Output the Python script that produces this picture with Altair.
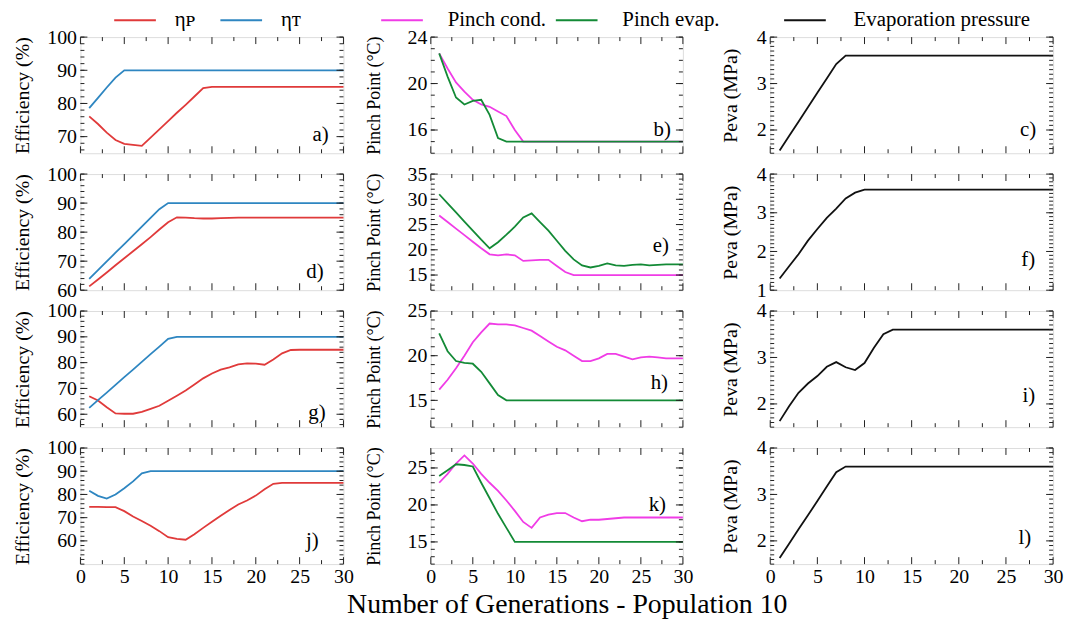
import math
import altair as alt
import pandas as pd

FONT = "Liberation Serif"
GEN = list(range(1, 31))

# ---------------- data ----------------
A_P = [76.1, 73.8, 71.2, 69.0, 67.8, 67.5, 67.2, 69.7, 72.2, 74.7, 77.2, 79.6, 82.1, 84.6, 85.0,
       85.0, 85.0, 85.0, 85.0, 85.0, 85.0, 85.0, 85.0, 85.0, 85.0, 85.0, 85.0, 85.0, 85.0, 85.0]
A_T = [78.6, 81.7, 84.8, 87.8, 90.0, 90.0, 90.0, 90.0, 90.0, 90.0, 90.0, 90.0, 90.0, 90.0, 90.0,
       90.0, 90.0, 90.0, 90.0, 90.0, 90.0, 90.0, 90.0, 90.0, 90.0, 90.0, 90.0, 90.0, 90.0, 90.0]
D_P = [61.3, 63.7, 66.1, 68.6, 71.0, 73.4, 75.8, 78.3, 80.9, 83.4, 85.1, 85.0, 84.8, 84.7, 84.7,
       84.8, 84.9, 85.0, 85.0, 85.0, 85.0, 85.0, 85.0, 85.0, 85.0, 85.0, 85.0, 85.0, 85.0, 85.0]
D_T = [63.9, 66.9, 69.9, 72.9, 75.9, 78.9, 81.9, 84.9, 87.9, 90.0, 90.0, 90.0, 90.0, 90.0, 90.0,
       90.0, 90.0, 90.0, 90.0, 90.0, 90.0, 90.0, 90.0, 90.0, 90.0, 90.0, 90.0, 90.0, 90.0, 90.0]
G_P = [67.0, 65.3, 62.7, 60.3, 60.2, 60.2, 60.9, 62.1, 63.3, 65.2, 67.2, 69.2, 71.5, 73.9, 75.8,
       77.3, 78.2, 79.3, 79.7, 79.6, 79.2, 81.2, 83.6, 84.9, 85.0, 85.0, 85.0, 85.0, 85.0, 85.0]
G_T = [62.5, 65.5, 68.4, 71.4, 74.4, 77.3, 80.3, 83.3, 86.2, 89.2, 90.0, 90.0, 90.0, 90.0, 90.0,
       90.0, 90.0, 90.0, 90.0, 90.0, 90.0, 90.0, 90.0, 90.0, 90.0, 90.0, 90.0, 90.0, 90.0, 90.0]
J_P = [74.6, 74.6, 74.5, 74.5, 72.8, 70.5, 68.6, 66.5, 64.2, 61.6, 60.9, 60.5, 62.9, 65.6, 68.2,
       70.8, 73.3, 75.7, 77.4, 79.5, 82.2, 84.6, 85.0, 85.0, 85.0, 85.0, 85.0, 85.0, 85.0, 85.0]
J_T = [81.6, 79.4, 78.2, 80.0, 82.7, 85.6, 89.1, 90.0, 90.0, 90.0, 90.0, 90.0, 90.0, 90.0, 90.0,
       90.0, 90.0, 90.0, 90.0, 90.0, 90.0, 90.0, 90.0, 90.0, 90.0, 90.0, 90.0, 90.0, 90.0, 90.0]

B_C = [22.6, 21.3, 20.1, 19.3, 18.6, 18.2, 18.0, 17.6, 17.2, 16.0, 15.0, 15.0, 15.0, 15.0, 15.0,
       15.0, 15.0, 15.0, 15.0, 15.0, 15.0, 15.0, 15.0, 15.0, 15.0, 15.0, 15.0, 15.0, 15.0, 15.0]
B_E = [22.6, 20.6, 18.8, 18.2, 18.5, 18.6, 17.3, 15.3, 15.0, 15.0, 15.0, 15.0, 15.0, 15.0, 15.0,
       15.0, 15.0, 15.0, 15.0, 15.0, 15.0, 15.0, 15.0, 15.0, 15.0, 15.0, 15.0, 15.0, 15.0, 15.0]
E_C = [26.8, 25.5, 24.2, 22.9, 21.6, 20.3, 19.1, 18.9, 19.1, 18.9, 17.8, 17.9, 18.0, 18.0, 16.8,
       15.6, 15.0, 15.0, 15.0, 15.0, 15.0, 15.0, 15.0, 15.0, 15.0, 15.0, 15.0, 15.0, 15.0, 15.0]
E_E = [31.0, 29.2, 27.4, 25.6, 23.8, 22.0, 20.3, 21.5, 23.0, 24.6, 26.4, 27.2, 25.5, 23.8, 21.8,
       19.8, 18.1, 16.9, 16.5, 16.8, 17.3, 16.9, 16.8, 17.0, 17.1, 16.9, 17.0, 17.1, 17.1, 17.1]
H_C = [16.2, 17.3, 18.6, 20.0, 21.5, 22.6, 23.6, 23.5, 23.5, 23.4, 23.1, 22.8, 22.2, 21.6, 21.0,
       20.6, 20.0, 19.4, 19.4, 19.7, 20.2, 20.2, 19.9, 19.6, 19.8, 19.9, 19.8, 19.7, 19.7, 19.7]
H_E = [22.5, 20.5, 19.4, 19.2, 19.1, 18.2, 16.9, 15.6, 15.0, 15.0, 15.0, 15.0, 15.0, 15.0, 15.0,
       15.0, 15.0, 15.0, 15.0, 15.0, 15.0, 15.0, 15.0, 15.0, 15.0, 15.0, 15.0, 15.0, 15.0, 15.0]
K_C = [23.0, 24.2, 25.6, 26.7, 25.6, 24.2, 23.0, 21.9, 20.6, 19.2, 17.7, 16.9, 18.3, 18.7, 18.9,
       18.9, 18.3, 17.8, 18.0, 18.0, 18.1, 18.2, 18.3, 18.3, 18.3, 18.3, 18.3, 18.3, 18.3, 18.3]
K_E = [23.9, 24.7, 25.5, 25.4, 25.2, 23.0, 20.9, 18.8, 16.9, 15.0, 15.0, 15.0, 15.0, 15.0, 15.0,
       15.0, 15.0, 15.0, 15.0, 15.0, 15.0, 15.0, 15.0, 15.0, 15.0, 15.0, 15.0, 15.0, 15.0, 15.0]

C_V = [1.56, 1.87, 2.18, 2.49, 2.80, 3.11, 3.42, 3.60, 3.60, 3.60, 3.60, 3.60, 3.60, 3.60, 3.60,
       3.60, 3.60, 3.60, 3.60, 3.60, 3.60, 3.60, 3.60, 3.60, 3.60, 3.60, 3.60, 3.60, 3.60, 3.60]
F_V = [1.30, 1.62, 1.93, 2.28, 2.58, 2.87, 3.11, 3.37, 3.52, 3.60, 3.60, 3.60, 3.60, 3.60, 3.60,
       3.60, 3.60, 3.60, 3.60, 3.60, 3.60, 3.60, 3.60, 3.60, 3.60, 3.60, 3.60, 3.60, 3.60, 3.60]
I_V = [1.63, 1.95, 2.24, 2.44, 2.60, 2.80, 2.90, 2.79, 2.73, 2.88, 3.21, 3.50, 3.60, 3.60, 3.60,
       3.60, 3.60, 3.60, 3.60, 3.60, 3.60, 3.60, 3.60, 3.60, 3.60, 3.60, 3.60, 3.60, 3.60, 3.60]
L_V = [1.63, 1.94, 2.25, 2.55, 2.86, 3.17, 3.48, 3.60, 3.60, 3.60, 3.60, 3.60, 3.60, 3.60, 3.60,
       3.60, 3.60, 3.60, 3.60, 3.60, 3.60, 3.60, 3.60, 3.60, 3.60, 3.60, 3.60, 3.60, 3.60, 3.60]

SER1 = ["ηᴘ", "ηᴛ"]
SER2 = ["Pinch cond.", "Pinch evap."]
SER3 = ["Evaporation pressure"]

X_MAJOR = [0, 5, 10, 15, 20, 25, 30]
X_MINOR = [2.5, 7.5, 12.5, 17.5, 22.5, 27.5]

COL1 = dict(series=SER1, colors=["#e03a3a", "#2e86c1"], title="Efficiency (%)", title_size=20,
            label_size=20, extent=38, width=265, legend_x=33, label_offset=18, col_pad=21,
            minor_step=2)
COL2 = dict(series=SER2, colors=["#f03ce6", "#138a36"], title="Pinch Point (°C)", title_size=18,
            label_size=20, extent=38, width=254, legend_x=-51, label_offset=24, col_pad=5,
            minor_step=1)
COL3 = dict(series=SER3, colors=["#111111"], title="Peva (MPa)", title_size=20,
            label_size=20, extent=20, width=285, legend_x=13, label_offset=27, col_pad=20,
            minor_step=0.1)
H = 117
TICK_COLOR = "#222222"
MAJOR_LEN = 7   # px
MINOR_LEN = 4   # px


def steps(lo, hi, step):
    k = math.ceil(lo / step - 1e-9)
    vals = []
    while k * step <= hi + 1e-9:
        vals.append(round(k * step, 4))
        k += 1
    return vals


def frame_ticks(xs, ys, xdom, ydom, ymajor, yminor, W):
    """Inward frame ticks as short two-point line segments placed through the panel scales."""
    ux = (xdom[1] - xdom[0]) / W      # data units per pixel (x)
    uy = (ydom[1] - ydom[0]) / H      # data units per pixel (y)
    rows, tid = [], 0
    for vals, ln in ((ymajor, MAJOR_LEN), (yminor, MINOR_LEN)):
        for v in vals:
            for x0, x1 in ((xdom[0], xdom[0] + ln * ux), (xdom[1] - ln * ux, xdom[1])):
                rows += [{"tid": tid, "tx": x0, "ty": v}, {"tid": tid, "tx": x1, "ty": v}]
                tid += 1
    for vals, ln in ((X_MAJOR, MAJOR_LEN), (X_MINOR, MINOR_LEN)):
        for v in vals:
            for y0, y1 in ((ydom[0], ydom[0] + ln * uy), (ydom[1] - ln * uy, ydom[1])):
                rows += [{"tid": tid, "tx": v, "ty": y0}, {"tid": tid, "tx": v, "ty": y1}]
                tid += 1
    return alt.Chart(pd.DataFrame(rows)).mark_line(
        color=TICK_COLOR, strokeWidth=1, strokeCap="butt").encode(
        x=alt.X("tx:Q", scale=xs, axis=None),
        y=alt.Y("ty:Q", scale=ys, axis=None),
        detail="tid:N",
    )


def panel(col, series_values, ydom, ylabels, tag, tag_pos, row):
    W = col["width"]
    recs = []
    for name, vals in zip(col["series"], series_values):
        for g, v in zip(GEN, vals):
            recs.append({"gen": g, "series": name, "val": v})
    df = pd.DataFrame(recs)

    xdom = [0, 30]
    xs = alt.Scale(domain=xdom, nice=False, zero=False)
    ys = alt.Scale(domain=ydom, nice=False, zero=False)
    yminor = steps(ydom[0], ydom[1], col["minor_step"])

    if row == 3:
        xaxis_kw = dict(values=X_MAJOR, labels=True, labelFont=FONT, labelFontSize=20,
                        labelColor="black", labelPadding=3, labelFlush=False, labelOverlap=False,
                        ticks=False, domain=False, grid=False, title=None)
        if tag == "k)":
            xaxis_kw.update(title="Number of Generations - Population 10", titleFont=FONT,
                            titleFontSize=28, titleFontWeight="normal", titleColor="black",
                            titlePadding=4, titleX=137)
        xaxis = alt.Axis(**xaxis_kw)
    else:
        xaxis = None
    yaxis = alt.Axis(values=ylabels, labels=True, labelFont=FONT, labelFontSize=col["label_size"],
                     labelColor="black", labelPadding=4, labelFlush=False, labelOverlap=False,
                     ticks=False, domain=False, grid=False,
                     minExtent=col["extent"], maxExtent=col["extent"],
                     title=col["title"], titleFont=FONT, titleFontSize=col["title_size"],
                     titleFontWeight="normal", titleColor="black", titlePadding=10)

    if row == 0:
        legend = alt.Legend(orient="none", legendX=col["legend_x"], legendY=-39,
                            direction="horizontal", title=None, symbolType="stroke",
                            symbolSize=1764, symbolStrokeWidth=2, labelFont=FONT,
                            labelFontSize=21, labelColor="black", labelOffset=col["label_offset"],
                            columnPadding=col["col_pad"], padding=0, labelLimit=400)
    else:
        legend = None

    main = alt.Chart(df).mark_line(strokeWidth=1.8).encode(
        x=alt.X("gen:Q", scale=xs, axis=xaxis),
        y=alt.Y("val:Q", scale=ys, axis=yaxis),
        color=alt.Color("series:N", scale=alt.Scale(domain=col["series"], range=col["colors"]),
                        legend=legend),
    )
    ticks = frame_ticks(xs, ys, xdom, ydom, ylabels, yminor, W)
    txt = alt.Chart(pd.DataFrame({"t": [tag]})).mark_text(
        align="right", baseline="middle", font=FONT, fontSize=21, color="black"
    ).encode(text="t:N", x=alt.value(W - tag_pos[0]), y=alt.value(H - tag_pos[1]))

    return alt.layer(main, ticks, txt).resolve_axis(
        x="independent", y="independent").properties(width=W, height=H)


panels = [
    panel(COL1, [A_P, A_T], [65, 100], [70, 80, 90, 100], "a)", (15, 18), 0),
    panel(COL2, [B_C, B_E], [14, 24], [16, 20, 24], "b)", (12, 23), 0),
    panel(COL3, [C_V], [1.5, 4], [2, 3, 4], "c)", (17, 23), 0),
    panel(COL1, [D_P, D_T], [60, 100], [60, 70, 80, 90, 100], "d)", (20, 18), 1),
    panel(COL2, [E_C, E_E], [12, 35], [15, 20, 25, 30, 35], "e)", (14, 44), 1),
    panel(COL3, [F_V], [1, 4], [1, 2, 3, 4], "f)", (18, 30), 1),
    panel(COL1, [G_P, G_T], [55, 100], [60, 70, 80, 90, 100], "g)", (18, 14), 2),
    panel(COL2, [H_C, H_E], [12, 25], [15, 20, 25], "h)", (15, 44), 2),
    panel(COL3, [I_V], [1.5, 4], [2, 3, 4], "i)", (18, 31), 2),
    panel(COL1, [J_P, J_T], [50, 100], [60, 70, 80, 90, 100], "j)", (25, 23), 3),
    panel(COL2, [K_C, K_E], [12, 27.7], [15, 20, 25], "k)", (17, 60), 3),
    panel(COL3, [L_V], [1.5, 4], [2, 3, 4], "l)", (22, 26), 3),
]

chart = alt.concat(
    *panels, columns=3, spacing={"row": 21, "column": 88}, bounds="flush", align="each"
).resolve_scale(color="independent").properties(
    padding={"left": 4, "top": -13, "right": 0, "bottom": 0}, background="white"
).configure_view(stroke="#222222", strokeWidth=1).configure(font=FONT)

chart.save("out.html", embed_options={"renderer": "svg", "actions": False})
